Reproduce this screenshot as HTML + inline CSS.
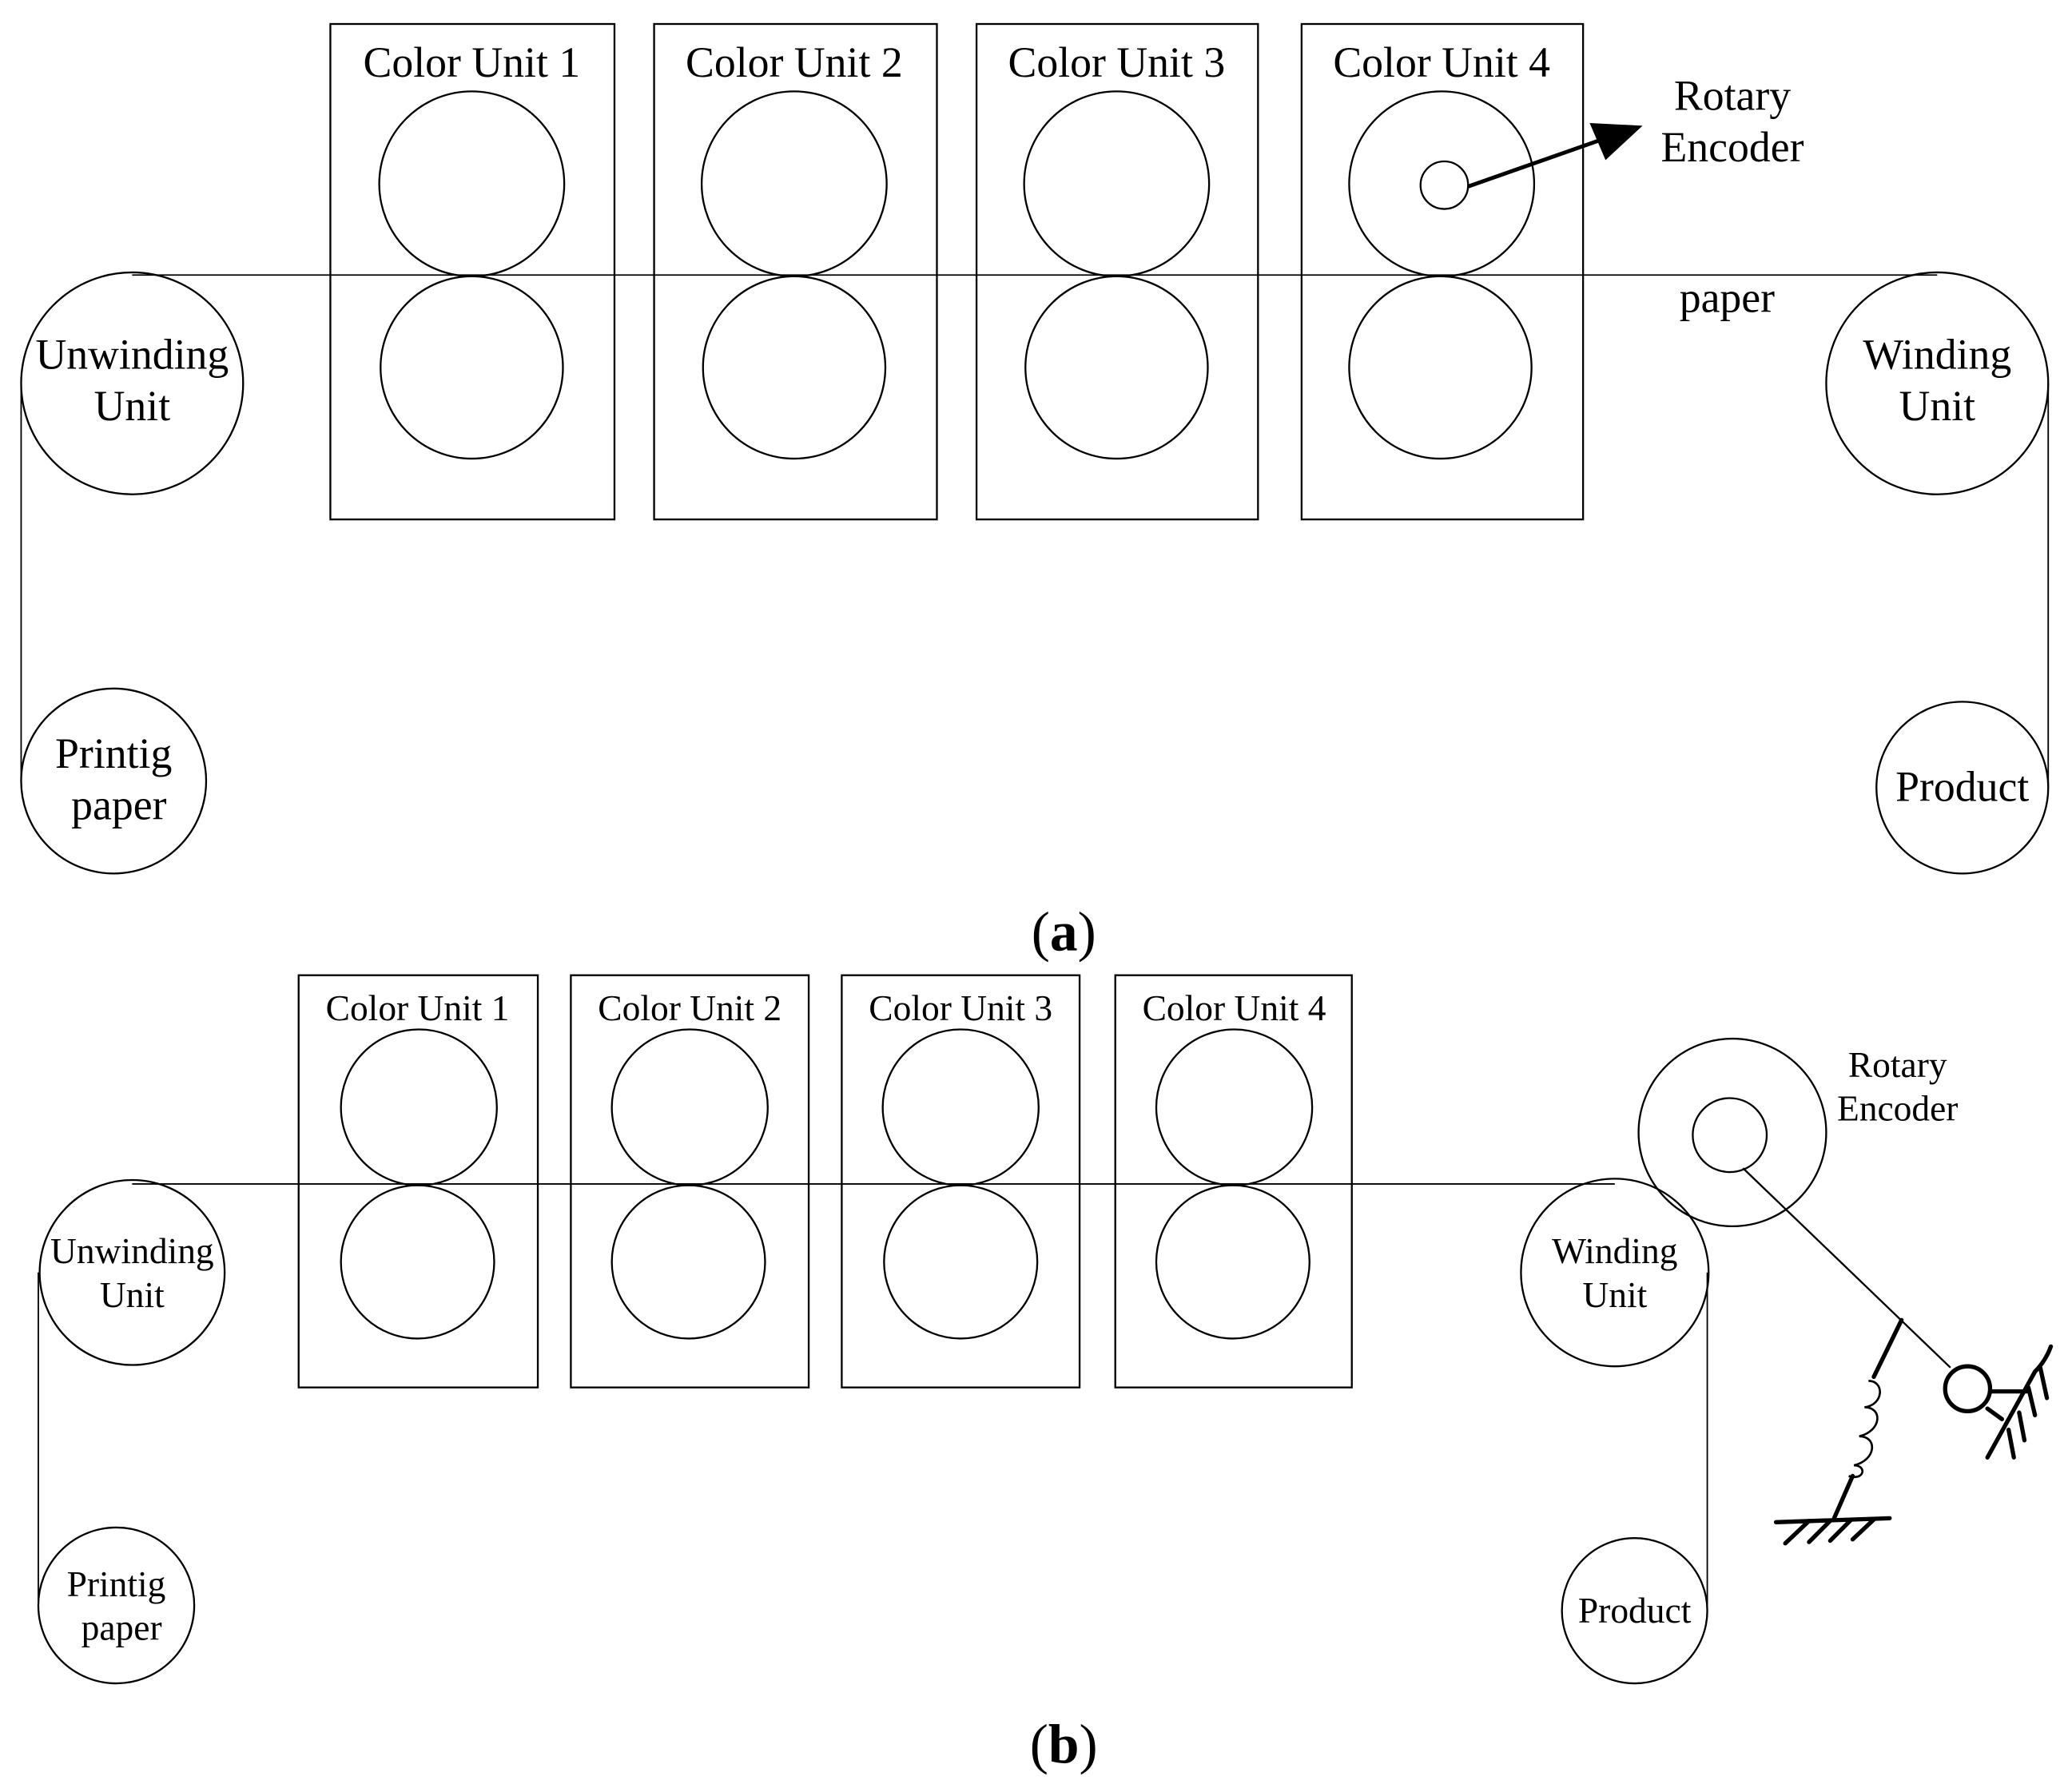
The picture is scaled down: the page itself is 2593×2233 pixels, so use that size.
<!DOCTYPE html>
<html><head><meta charset="utf-8"><style>html,body{margin:0;padding:0;background:#fff}svg{display:block}</style></head>
<body>
<svg width="2593" height="2233" viewBox="0 0 1568 1350" xmlns="http://www.w3.org/2000/svg" font-family="'Liberation Serif', serif" fill="none" stroke="#000">
<!-- (a) -->
<g stroke-width="1.4">
<line x1="100" y1="208" x2="1466" y2="208" stroke-width="1.1"/>
<rect x="250" y="18" width="215" height="375"/>
<rect x="495" y="18" width="214" height="375"/>
<rect x="739" y="18" width="213" height="375"/>
<rect x="985" y="18" width="213" height="375"/>
<circle cx="357" cy="139" r="70"/><circle cx="357" cy="278" r="69"/>
<circle cx="601" cy="139" r="70"/><circle cx="601" cy="278" r="69"/>
<circle cx="845" cy="139" r="70"/><circle cx="845" cy="278" r="69"/>
<circle cx="1091" cy="139" r="70"/><circle cx="1090" cy="278" r="69"/>
<circle cx="1093" cy="140" r="18"/>
<circle cx="100" cy="290" r="84"/>
<circle cx="1466" cy="290" r="84"/>
<line x1="16" y1="290" x2="16" y2="591" stroke-width="1.1"/>
<circle cx="86" cy="591" r="70"/>
<line x1="1550" y1="290" x2="1550" y2="596" stroke-width="1.1"/>
<circle cx="1485" cy="596" r="65"/>
</g>
<line x1="1111" y1="141" x2="1222" y2="102" stroke-width="3"/>
<polygon points="1243,95 1203,93 1215,121" fill="#000" stroke="none"/>
<g fill="#000" stroke="none" font-size="32.5" text-anchor="middle">
<text x="357" y="58">Color Unit 1</text>
<text x="601" y="58">Color Unit 2</text>
<text x="845" y="58">Color Unit 3</text>
<text x="1091" y="58">Color Unit 4</text>
<text x="1311" y="83">Rotary</text>
<text x="1311" y="122">Encoder</text>
<text x="1307" y="236">paper</text>
<text x="100" y="279">Unwinding</text>
<text x="100" y="318">Unit</text>
<text x="1466" y="279">Winding</text>
<text x="1466" y="318">Unit</text>
<text x="86" y="581">Printig</text>
<text x="90" y="620">paper</text>
<text x="1485" y="606">Product</text>
<text x="805" y="719" font-size="42"><tspan>(</tspan><tspan font-weight="bold">a</tspan><tspan>)</tspan></text>
</g>
<!-- (b) -->
<g stroke-width="1.4">
<line x1="100" y1="896" x2="1222" y2="896" stroke-width="1.1"/>
<rect x="226" y="738" width="181" height="312"/>
<rect x="432" y="738" width="180" height="312"/>
<rect x="637" y="738" width="180" height="312"/>
<rect x="844" y="738" width="179" height="312"/>
<circle cx="317" cy="838" r="59"/><circle cx="316" cy="955" r="58"/>
<circle cx="522" cy="838" r="59"/><circle cx="521" cy="955" r="58"/>
<circle cx="727" cy="838" r="59"/><circle cx="727" cy="955" r="58"/>
<circle cx="934" cy="838" r="59"/><circle cx="933" cy="955" r="58"/>
<circle cx="100" cy="963" r="70"/>
<circle cx="1222" cy="963" r="71"/>
<line x1="29" y1="963" x2="29" y2="1215" stroke-width="1.1"/>
<circle cx="88" cy="1215" r="59"/>
<line x1="1292" y1="963" x2="1292" y2="1219" stroke-width="1.1"/>
<circle cx="1237" cy="1219" r="55"/>
<circle cx="1311" cy="857" r="71"/>
<circle cx="1309" cy="859" r="28"/>
<line x1="1319" y1="884" x2="1476" y2="1035"/>
<path d="M1414,1045 c12,0 12,18 -3,20 c14,0 13,18 -4,22 c14,0 13,18 -4,22 c10,0 8,12 -4,8" stroke-width="1.6"/>
</g>
<g stroke-width="3.2" stroke-linecap="round">
<line x1="1439" y1="999" x2="1418" y2="1042"/>
<line x1="1402" y1="1117" x2="1388" y2="1149"/>
<line x1="1344" y1="1152" x2="1430" y2="1149"/>
<line x1="1369" y1="1151" x2="1351" y2="1168"/>
<line x1="1385" y1="1151" x2="1369" y2="1167"/>
<line x1="1401" y1="1150" x2="1385" y2="1166"/>
<line x1="1418" y1="1150" x2="1402" y2="1165"/>
<circle cx="1489" cy="1051" r="17"/>
<line x1="1507" y1="1053" x2="1534" y2="1053"/>
<line x1="1504" y1="1066" x2="1515" y2="1074"/>
<path d="M1552,1019 Q1548,1030 1540,1038 L1504,1103"/>
<line x1="1544" y1="1035" x2="1549" y2="1058"/>
<line x1="1535" y1="1050" x2="1540" y2="1071"/>
<line x1="1528" y1="1069" x2="1532" y2="1090"/>
<line x1="1520" y1="1082" x2="1524" y2="1103"/>
</g>
<g fill="#000" stroke="none" font-size="27.5" text-anchor="middle">
<text x="316" y="772">Color Unit 1</text>
<text x="522" y="772">Color Unit 2</text>
<text x="727" y="772">Color Unit 3</text>
<text x="934" y="772">Color Unit 4</text>
<text x="1436" y="815">Rotary</text>
<text x="1436" y="848">Encoder</text>
<text x="100" y="956">Unwinding</text>
<text x="100" y="989">Unit</text>
<text x="1222" y="956">Winding</text>
<text x="1222" y="989">Unit</text>
<text x="88" y="1208">Printig</text>
<text x="92" y="1241">paper</text>
<text x="1237" y="1228">Product</text>
<text x="805" y="1334" font-size="42"><tspan>(</tspan><tspan font-weight="bold">b</tspan><tspan>)</tspan></text>
</g>
</svg>
</body></html>
